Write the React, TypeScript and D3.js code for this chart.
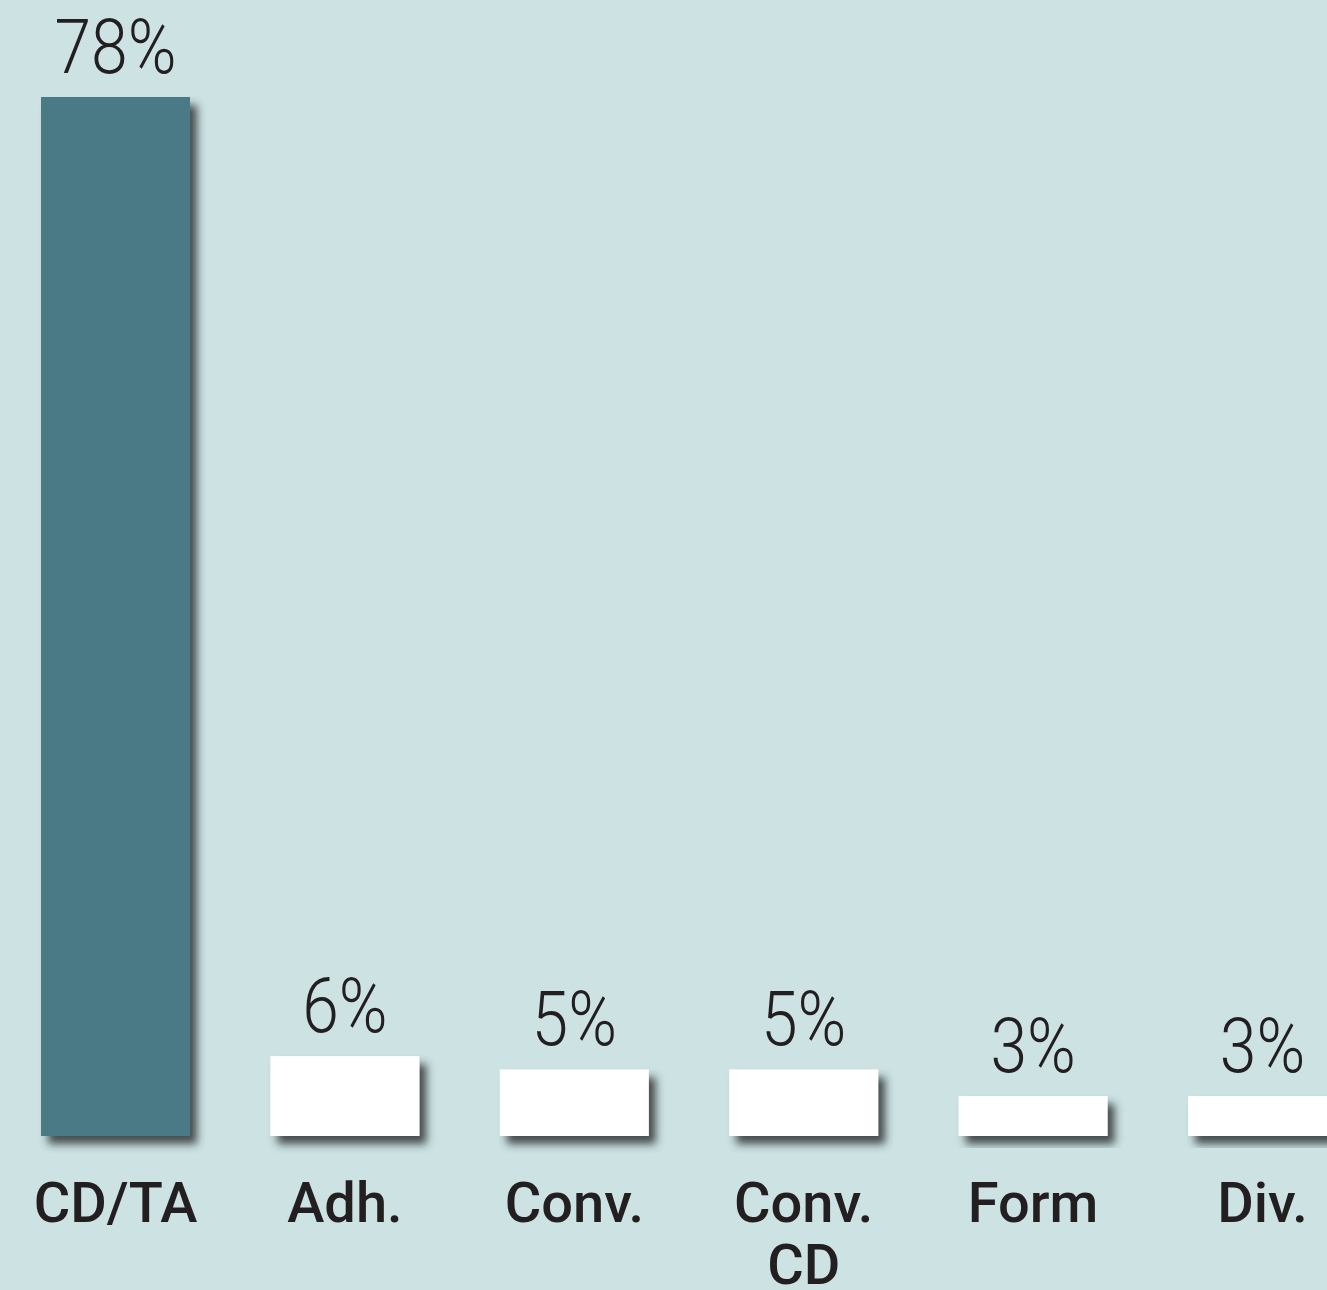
import * as d3 from "d3";

const CATEGORIES = ["CD/TA", "Adh.", "Conv.", "Conv.\nCD", "Form", "Div."];
const VALUES = [78, 6, 5, 5, 3, 3];
const HIGHLIGHT = "CD/TA";

const W = 1327;
const H = 1290;
const BASE = 1136;
const TOP = 97;
const BAR_W = 149;

export default function App() {
    // even pitch fitted to the reference bar positions
    const x = d3.scaleLinear().domain([0, CATEGORIES.length - 1]).range([41, 41 + 229.4 * (CATEGORIES.length - 1)]);
    const y = d3.scaleLinear().domain([0, d3.max(VALUES) as number]).range([BASE, TOP]);

    return (
        <div style={{ position: "absolute", left: 0, top: 0 }}>
            <svg width={W} height={H} style={{ display: "block" }}>
                <defs>
                    <filter id="shadow" x="-20%" y="-20%" width="150%" height="150%">
                        <feDropShadow dx="7" dy="8" stdDeviation="4" floodColor="#2e3333" floodOpacity="0.85" />
                    </filter>
                </defs>
                <rect width={W} height={H} fill="#cce2e3" />
                {CATEGORIES.map((c, i) => {
                    const v = VALUES[i];
                    const bx = x(i);
                    const cx = bx + BAR_W / 2;
                    const lines = c.split("\n");
                    return (
                        <g key={c}>
                            <rect
                                x={bx}
                                y={y(v)}
                                width={BAR_W}
                                height={BASE - y(v)}
                                fill={c === HIGHLIGHT ? "#4a7a86" : "#ffffff"}
                                filter="url(#shadow)"
                            />
                            {/* narrow, tall light figures like the original DIN face */}
                            <text
                                transform={`translate(${cx},${y(v) - 24}) scale(1,1.15)`}
                                textAnchor="middle"
                                fontFamily="Roboto, sans-serif"
                                fontWeight={300}
                                fontSize={66}
                                fill="#231f20"
                            >
                                {v}%
                            </text>
                            {lines.map((l, j) => (
                                <text
                                    key={j}
                                    x={cx}
                                    y={1222 + j * 62}
                                    textAnchor="middle"
                                    fontFamily="Roboto, sans-serif"
                                    fontWeight={500}
                                    fontSize={56}
                                    fill="#231f20"
                                >
                                    {l}
                                </text>
                            ))}
                        </g>
                    );
                })}
            </svg>
        </div>
    );
}
